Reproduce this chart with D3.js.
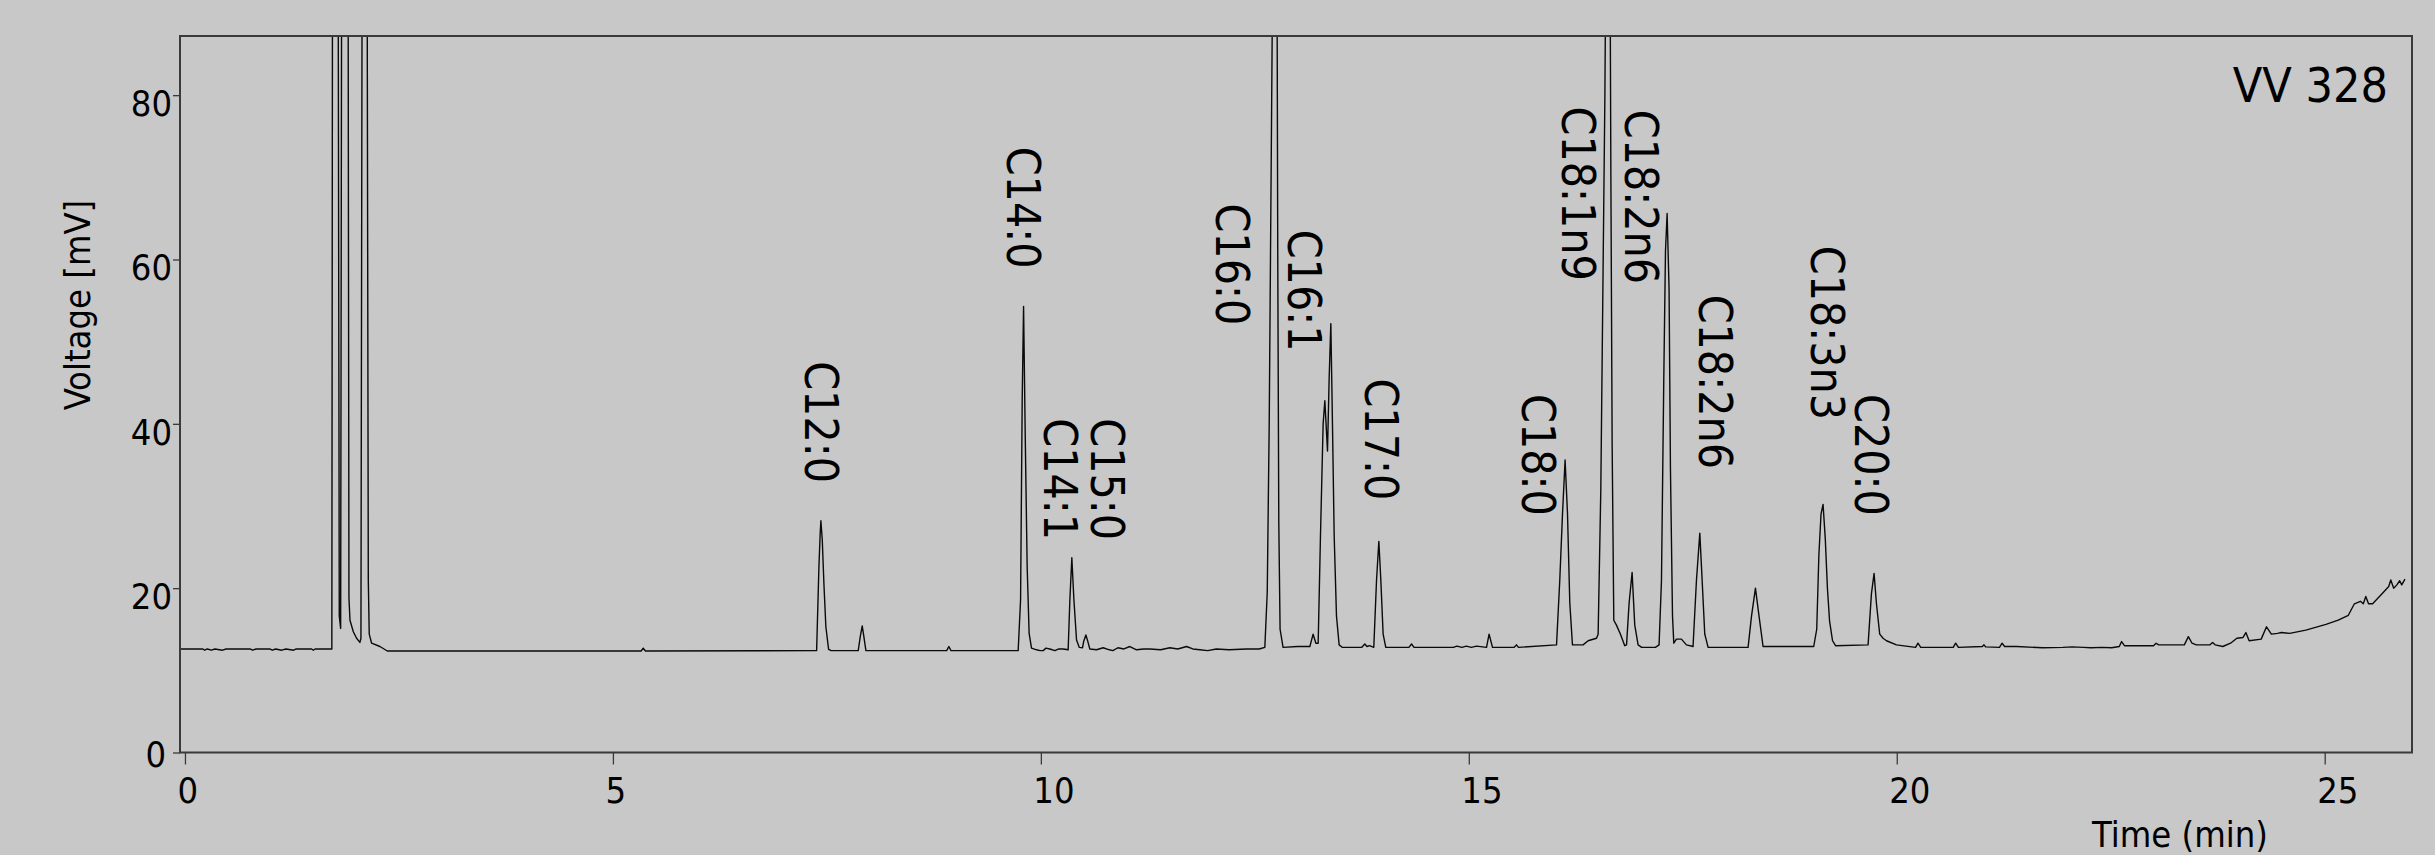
<!DOCTYPE html>
<html>
<head>
<meta charset="utf-8">
<script src="https://cdn.jsdelivr.net/npm/d3@7"></script>
<style>
  html, body { margin: 0; padding: 0; background: #c8c8c8; }
  svg { display: block; }
  text { font-family: 'DejaVu Sans Condensed', 'DejaVu Sans', sans-serif; font-stretch: condensed; fill: #000; }
</style>
</head>
<body>
<svg id="chart" width="2435" height="855"></svg>
<script>
// ---- data ----
const xTicks = [0, 5, 10, 15, 20, 25];
const yTicks = [0, 20, 40, 60, 80];
const xDomain = [-0.058, 26.02];
const yDomain = [0, 87.2];
const sampleName = "VV 328";
const xTitle = "Time (min)";
const yTitle = "Voltage [mV]";

const peakNames = ["C12:0", "C14:0", "C14:1", "C15:0", "C16:0", "C16:1", "C17:0",
  "C18:0", "C18:1n9", "C18:2n6", "C18:2n6", "C18:3n3", "C20:0"];
const peakLabelTime = [7.438, 9.80, 10.228, 10.78, 12.24, 13.08, 13.98,
  15.82, 16.285, 17.02, 17.886, 19.19, 19.71];
const peakLabelEnd = [32.8, 58.9, 25.85, 25.85, 52.0, 48.8, 30.7,
  28.8, 57.4, 57.0, 34.5, 40.45, 28.8];

// chromatogram trace: [time (min), voltage (mV)]
const signal = [
  [-0.058,12.6],[0.21,12.6],[0.23,12.45],[0.26,12.6],[0.31,12.45],[0.35,12.6],[0.44,12.45],[0.48,12.6],
  [0.76,12.6],[0.79,12.45],[0.83,12.6],[0.99,12.6],[1.02,12.45],[1.06,12.6],[1.13,12.45],[1.18,12.6],
  [1.27,12.45],[1.30,12.6],[1.48,12.6],[1.50,12.45],[1.52,12.6],[1.716,12.6],
  [1.726,120],[1.786,120],[1.803,16.6],[1.819,15.1],[1.834,120],[1.903,120],
  [1.916,18.8],[1.928,16.1],[1.967,14.7],[2.005,13.9],[2.044,13.4],[2.056,13.9],
  [2.074,120],[2.124,120],[2.142,21],[2.153,14.4],[2.181,13.3],[2.278,12.9],[2.364,12.35],
  [5.33,12.35],[5.354,12.7],[5.38,12.35],
  [7.380,12.4],[7.407,22.6],[7.422,26.7],[7.430,28.2],[7.446,25.9],[7.465,20.6],[7.488,15.3],[7.520,12.55],[7.55,12.4],
  [7.866,12.4],[7.890,14.1],[7.913,15.4],[7.932,14.1],[7.956,12.4],
  [8.90,12.4],[8.925,12.9],[8.95,12.4],
  [9.735,12.4],[9.763,18.6],[9.782,42.9],[9.798,54.3],[9.817,38.9],[9.840,22.6],[9.863,14.5],[9.891,12.7],
  [9.95,12.5],[9.99,12.4],[10.027,12.4],[10.06,12.7],[10.105,12.6],[10.164,12.4],[10.21,12.6],[10.261,12.6],
  [10.319,12.5],[10.339,18.6],[10.362,23.7],[10.386,18.6],[10.417,13.7],[10.448,12.8],
  [10.487,12.75],[10.50,13.5],[10.526,14.3],[10.549,13.5],[10.572,12.6],
  [10.65,12.5],[10.728,12.75],[10.80,12.5],[10.841,12.4],[10.90,12.75],[10.97,12.6],[11.040,12.9],[11.118,12.5],
  [11.20,12.6],[11.273,12.6],[11.40,12.5],[11.507,12.75],[11.60,12.6],[11.702,12.9],[11.776,12.6],[11.857,12.5],
  [11.95,12.4],[12.05,12.6],[12.20,12.5],[12.40,12.6],[12.55,12.6],
  [12.617,12.8],[12.645,19.5],[12.668,40],[12.690,70],[12.712,100],[12.758,100],[12.768,60],[12.780,28],[12.795,15],[12.830,12.8],
  [13.00,12.9],[13.143,12.9],[13.181,14.4],[13.213,13.3],
  [13.240,13.3],[13.267,26.4],[13.298,40],[13.318,42.8],[13.349,36.7],[13.368,45.4],[13.388,52.2],[13.407,40],[13.427,26.4],[13.454,16.6],[13.485,13.1],[13.52,12.8],
  [13.75,12.8],[13.785,13.2],[13.81,12.9],[13.84,13.0],
  [13.890,12.8],[13.922,21],[13.949,25.7],[13.972,21],[13.999,14.4],[14.030,12.8],
  [14.30,12.8],[14.331,13.2],[14.36,12.8],
  [14.82,12.8],[14.86,12.95],[14.92,12.8],[14.97,12.95],[15.03,12.8],[15.09,12.95],
  [15.207,12.8],[15.237,14.4],[15.277,12.8],[15.53,12.8],[15.557,13.1],[15.58,12.8],
  [16.025,13.1],[16.063,21],[16.095,29.1],[16.125,35.6],[16.153,29.1],[16.180,18.2],[16.211,13.1],
  [16.335,13.1],[16.394,13.6],[16.492,13.9],
  [16.511,14.4],[16.542,31.8],[16.569,58.9],[16.590,80],[16.610,110],[16.645,110],[16.660,70],[16.675,37.2],[16.694,16.1],[16.725,15.5],[16.772,14.4],[16.822,13.0],
  [16.843,13.1],[16.873,18.2],[16.908,21.9],[16.939,15.5],[16.978,13.1],[17.02,12.8],
  [17.18,12.8],[17.223,13.1],[17.251,20.9],[17.278,45.4],[17.298,61.1],[17.317,65.6],[17.340,56.3],[17.356,34.5],[17.380,16.6],[17.395,13.3],
  [17.426,13.8],[17.484,13.8],[17.543,13.1],
  [17.62,12.9],[17.66,21],[17.699,26.7],[17.726,21],[17.757,14.4],[17.796,12.8],
  [18.263,12.8],[18.303,16.6],[18.349,20.0],[18.391,16.6],[18.438,12.9],
  [19.03,12.9],[19.065,15],[19.09,24],[19.115,29],[19.139,30.2],[19.165,26],[19.19,20],[19.215,16],[19.25,13.6],[19.285,13.0],
  [19.665,13.1],[19.704,19.3],[19.735,21.8],[19.762,18.2],[19.801,14.4],[19.84,13.9],[19.88,13.6],[19.997,13.1],
  [20.22,12.8],[20.248,13.3],[20.28,12.8],[20.66,12.8],[20.688,13.3],[20.72,12.8],
  [21.00,12.9],[21.019,13.1],[21.04,12.85],[21.20,12.8],[21.231,13.3],[21.26,12.9],[21.40,12.9],
  [21.705,12.75],[21.94,12.8],[22.05,12.85],[22.18,12.8],[22.27,12.75],[22.40,12.8],[22.51,12.75],
  [22.60,12.9],[22.627,13.5],[22.66,13.0],[23.00,13.0],[23.03,13.3],[23.06,13.1],
  [23.36,13.1],[23.407,14.1],[23.45,13.3],[23.50,13.1],[23.66,13.1],[23.69,13.4],[23.72,13.1],[23.81,12.9],
  [23.90,13.3],[23.974,13.9],[24.046,14.0],[24.079,14.6],[24.117,13.6],[24.258,13.8],
  [24.32,15.3],[24.377,14.4],[24.448,14.5],[24.495,14.6],[24.59,14.5],[24.78,14.9],[25.015,15.6],[25.158,16.1],
  [25.276,16.7],[25.347,18.1],[25.417,18.4],[25.451,18.1],[25.48,19.0],[25.512,18.1],[25.56,18.1],[25.678,19.4],
  [25.748,20.2],[25.772,21.0],[25.806,20.0],[25.843,20.4],[25.876,20.9],[25.9,20.4],[25.938,21.1]
];

// ---- layout ----
const W = 2435, H = 855;
const plot = { left: 180, top: 36, right: 2412, bottom: 752.5 };

const svg = d3.select("#chart");
svg.append("rect").attr("width", W).attr("height", H).attr("fill", "#c8c8c8");

const x = d3.scaleLinear().domain(xDomain).range([plot.left, plot.right]);
const y = d3.scaleLinear().domain(yDomain).range([plot.bottom, plot.top]);

svg.append("clipPath").attr("id", "clip")
  .append("rect")
  .attr("x", plot.left).attr("y", plot.top)
  .attr("width", plot.right - plot.left).attr("height", plot.bottom - plot.top);

// trace
const line = d3.line().x(d => x(d[0])).y(d => y(d[1]));
svg.append("path")
  .datum(signal)
  .attr("clip-path", "url(#clip)")
  .attr("fill", "none")
  .attr("stroke", "#0a0a0a")
  .attr("stroke-width", 1.4)
  .attr("stroke-linejoin", "round")
  .attr("d", line);

// frame
svg.append("rect")
  .attr("x", plot.left).attr("y", plot.top)
  .attr("width", plot.right - plot.left).attr("height", plot.bottom - plot.top)
  .attr("fill", "none").attr("stroke", "#3a3a3a").attr("stroke-width", 2);

// x axis
const xAxis = d3.axisBottom(x).tickValues(xTicks).tickSize(12).tickSizeOuter(0).tickFormat(d3.format("d"));
const gx = svg.append("g").attr("transform", `translate(0,${plot.bottom})`).call(xAxis);
gx.select(".domain").remove();
gx.selectAll(".tick line").attr("stroke", "#3a3a3a").attr("stroke-width", 1.3);
gx.selectAll(".tick text")
  .attr("text-anchor", "start")
  .attr("x", -8).attr("y", 50.5).attr("dy", null)
  .style("font-family", "'DejaVu Sans Condensed','DejaVu Sans',sans-serif")
  .style("font-stretch", "condensed")
  .style("font-size", "36px").attr("fill", "#000");

// y axis
const yAxis = d3.axisLeft(y).tickValues(yTicks).tickSize(7).tickSizeOuter(0).tickPadding(8).tickFormat(d3.format("d"));
const gy = svg.append("g").attr("transform", `translate(${plot.left},0)`).call(yAxis);
gy.select(".domain").remove();
gy.selectAll(".tick line").attr("stroke", "#3a3a3a").attr("stroke-width", 1.3);
gy.selectAll(".tick text")
  .attr("text-anchor", "end")
  .attr("x", d => d === 0 ? -14 : -8)
  .attr("y", d => d === 0 ? 13.5 : 20.5)
  .attr("dy", null)
  .style("font-family", "'DejaVu Sans Condensed','DejaVu Sans',sans-serif")
  .style("font-stretch", "condensed")
  .style("font-size", "36px").attr("fill", "#000");

// axis titles
svg.append("text")
  .attr("transform", "translate(90,305) rotate(-90)")
  .attr("text-anchor", "middle")
  .style("font-size", "36px")
  .text(yTitle);

svg.append("text")
  .attr("x", 2180).attr("y", 847)
  .attr("text-anchor", "middle")
  .style("font-size", "36px")
  .text(xTitle);

// sample name
svg.append("text")
  .attr("x", 2388).attr("y", 102)
  .attr("text-anchor", "end")
  .style("font-size", "48px")
  .text(sampleName);

// peak labels
const labels = peakNames.map((n, i) => ({ name: n, t: peakLabelTime[i], v: peakLabelEnd[i] }));
svg.append("g").selectAll("text").data(labels).join("text")
  .attr("transform", d => `translate(${x(d.t)},${y(d.v)}) rotate(90)`)
  .attr("text-anchor", "end")
  .attr("dy", "0.36em")
  .style("font-size", "46px")
  .text(d => d.name);
</script>
</body>
</html>
